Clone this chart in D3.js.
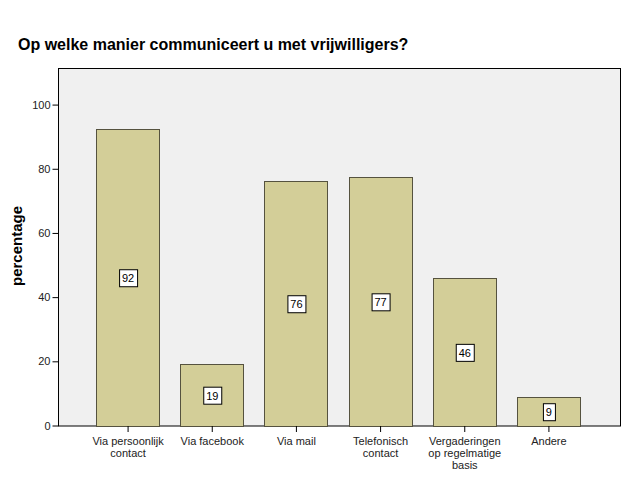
<!DOCTYPE html>
<html>
<head>
<meta charset="utf-8">
<script src="https://cdn.jsdelivr.net/npm/d3@7"></script>
<style>
  html, body { margin: 0; padding: 0; background: #ffffff; }
  svg { display: block; font-family: Arial, "Liberation Sans", sans-serif; }
</style>
</head>
<body>
<div id="chart"></div>
<script>
const categories = [
  ["Via persoonlijk", "contact"],
  ["Via facebook"],
  ["Via mail"],
  ["Telefonisch", "contact"],
  ["Vergaderingen", "op regelmatige", "basis"],
  ["Andere"]
];
const values = [92.4, 19.2, 76.2, 77.4, 45.9, 8.9];
const yTicks = [0, 20, 40, 60, 80, 100];
const title = "Op welke manier communiceert u met vrijwilligers?";
const yLabel = "percentage";

const W = 626, H = 501;
const frame = { left: 58, right: 620, top: 68, bottom: 425.5 };

const svg = d3.select("#chart").append("svg")
  .attr("width", W).attr("height", H);

svg.append("rect").attr("x", 0).attr("y", 0).attr("width", W).attr("height", H).attr("fill", "#ffffff");

// plot background
svg.append("rect")
  .attr("x", frame.left + 0.5).attr("y", frame.top + 0.5)
  .attr("width", frame.right - frame.left).attr("height", frame.bottom - frame.top)
  .attr("fill", "#f0f0f0").attr("stroke", "#000").attr("stroke-width", 1);

const y = d3.scaleLinear().domain([0, 111.4]).range([frame.bottom, frame.top]);
const idx = d3.range(categories.length);
const x = d3.scaleBand().domain(idx).range([85.5, 590.5]).paddingInner(0.25).paddingOuter(0.125);

// bars
svg.append("g").selectAll("rect").data(values).join("rect")
  .attr("x", (d, i) => Math.round(x(i)) + 0.5)
  .attr("y", d => Math.round(y(d)) + 0.5)
  .attr("width", Math.round(x.bandwidth()))
  .attr("height", d => Math.round(frame.bottom) - Math.round(y(d)))
  .attr("fill", "#d3ce98")
  .attr("stroke", "#55523f")
  .attr("stroke-width", 1);

// y axis
const yAxis = d3.axisLeft(y).tickValues(yTicks).tickSize(6).tickPadding(2).tickFormat(d3.format("d"));
const yg = svg.append("g").attr("transform", `translate(${frame.left + 0.5},0)`).call(yAxis);
yg.select(".domain").remove();
yg.selectAll("text").attr("font-size", 11).attr("fill", "#222").attr("font-family", "Arial, 'Liberation Sans', sans-serif");
yg.selectAll("line").attr("stroke", "#000");

// x axis
const xAxis = d3.axisBottom(x).tickSize(6).tickFormat("");
const xg = svg.append("g").attr("transform", `translate(0.5,${frame.bottom + 0.5})`).call(xAxis);
xg.select(".domain").remove();
xg.selectAll("line").attr("stroke", "#000");

// x labels (multi-line)
const xl = svg.append("g").selectAll("text").data(categories).join("text")
  .attr("x", (d, i) => x(i) + x.bandwidth() / 2 + 0.5)
  .attr("y", 445)
  .attr("text-anchor", "middle")
  .attr("font-size", 11)
  .attr("fill", "#222");
xl.each(function(lines) {
  d3.select(this).selectAll("tspan").data(lines).join("tspan")
    .attr("x", d3.select(this).attr("x"))
    .attr("dy", (d, j) => j === 0 ? 0 : 12)
    .text(d => d);
});

// value labels
const lab = svg.append("g").selectAll("g").data(values).join("g")
  .attr("transform", (d, i) => `translate(${x(i) + x.bandwidth() / 2 + 0.5},${(y(d) + frame.bottom) / 2 + 1})`);
lab.each(function(d) {
  const g = d3.select(this);
  const t = g.append("text").attr("text-anchor", "middle").attr("dy", "0.36em")
    .attr("font-size", 11).attr("fill", "#000").text(d3.format(".0f")(d));
  const bb = t.node().getBBox();
  g.insert("rect", "text")
    .attr("x", Math.round(bb.x - 3) + 0.5).attr("y", -8.5)
    .attr("width", Math.round(bb.width + 6)).attr("height", 17)
    .attr("fill", "#fff").attr("stroke", "#000").attr("stroke-width", 1);
});

// title
svg.append("text").attr("x", 18).attr("y", 50)
  .attr("font-size", 16).attr("font-weight", "bold").attr("fill", "#000")
  .text(title);

// y label
svg.append("text")
  .attr("transform", `translate(22,246) rotate(-90)`)
  .attr("text-anchor", "middle")
  .attr("font-size", 15).attr("font-weight", "bold").attr("fill", "#000")
  .text(yLabel);
</script>
</body>
</html>
